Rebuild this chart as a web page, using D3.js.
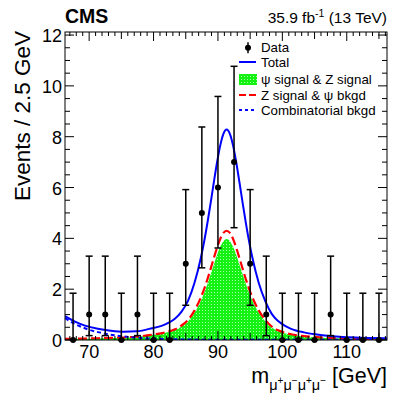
<!DOCTYPE html>
<html><head><meta charset="utf-8">
<script src="https://cdn.jsdelivr.net/npm/d3@7"></script>
<style>
body{margin:0;background:#fff}
svg{display:block}
text{font-family:"Liberation Sans",Arial,Helvetica,sans-serif;fill:#000}
</style>
</head><body>
<svg id="c" width="407" height="396"></svg>
<script>
// ---- data ----
const binCenters = [67.5,70,72.5,75,77.5,80,82.5,85,87.5,90,92.5,95,97.5,100,102.5,105,107.5,110,112.5,115];
const counts     = [0,1,1,0,1,0,0,3,5,6,7,3,1,0,0,0,1,0,0,0];
const errLow     = [0,0.173,0.173,0,0.173,0,0,1.367,2.840,3.620,4.419,1.367,0.173,0,0,0,0.173,0,0,0];
const errHigh    = [1.841,3.300,3.300,1.841,3.300,1.841,1.841,5.918,8.382,9.584,10.77,5.918,3.300,1.841,1.841,1.841,3.300,1.841,1.841,1.841];

const massGrid = [66.25,67.8,69.35,71.35,73.35,75.35,77.35,79.35,81.35,82.35,83.35,84.35,85.35,86.35,87.35,87.85,88.35,88.85,89.35,89.85,90.35,90.85,91.35,91.85,92.35,92.85,93.35,93.85,94.35,94.85,95.35,96.35,97.35,98.35,99.35,100.35,101.35,103.35,105.35,107.35,109.35,111.35,113.35,116.25];
const totalFit = [0.942,0.724,0.566,0.441,0.366,0.328,0.340,0.437,0.566,0.680,0.846,1.120,1.541,2.240,3.238,3.865,4.584,5.369,6.188,6.974,7.650,8.113,8.279,8.113,7.650,6.974,6.188,5.368,4.582,3.863,3.235,2.233,1.530,1.029,0.744,0.563,0.440,0.300,0.218,0.161,0.120,0.095,0.081,0.069];
const psiZSignal = [0.039,0.045,0.051,0.063,0.075,0.090,0.118,0.180,0.252,0.310,0.393,0.527,0.731,1.068,1.548,1.849,2.195,2.572,2.965,3.342,3.667,3.889,3.970,3.889,3.667,3.342,2.965,2.572,2.195,1.849,1.548,1.068,0.731,0.491,0.354,0.267,0.208,0.141,0.102,0.075,0.055,0.043,0.037,0.031];
const zSignalPsiBkgd = [0.043,0.049,0.055,0.068,0.081,0.098,0.128,0.194,0.272,0.336,0.425,0.570,0.791,1.157,1.678,2.005,2.378,2.787,3.213,3.622,3.974,4.215,4.300,4.215,3.974,3.622,3.213,2.787,2.378,2.005,1.678,1.157,0.791,0.531,0.383,0.289,0.225,0.153,0.110,0.081,0.060,0.047,0.040,0.034];
const combBkgd = [0.86,0.63,0.46,0.31,0.21,0.14,0.094,0.063,0.042,0.034,0.028,0.023,0.019,0.015,0.012,0.011,0.011,0.010,0.010,0.010,0.009,0.009,0.009,0.009,0.009,0.009,0.009,0.009,0.009,0.009,0.009,0.008,0.008,0.007,0.007,0.007,0.007,0.006,0.006,0.005,0.005,0.005,0.004,0.004];

const xTickLabels = [70,80,90,100,110];
const yTickLabels = [0,2,4,6,8,10,12];
const legendLabels = ["Data","Total","\u03C8 signal & Z signal","Z signal & \u03C8 bkgd","Combinatorial bkgd"];

// ---- layout ----
const L = 65, R = 387, T = 32, B = 340;
const svg = d3.select("#c");
const x = d3.scaleLinear().domain([66.25,116.25]).range([L,R]);
const y = d3.scaleLinear().domain([0,12.12]).range([B,T]);

const defs = svg.append("defs");
const pat = defs.append("pattern").attr("id","gp").attr("patternUnits","userSpaceOnUse")
  .attr("width",3).attr("height",3);
pat.append("rect").attr("width",3).attr("height",3).attr("fill","#14f214");
pat.append("rect").attr("x",1).attr("y",1).attr("width",1).attr("height",1).attr("fill","#a8ffa8");
defs.append("clipPath").attr("id","clip").append("rect")
  .attr("x",L).attr("y",T).attr("width",R-L).attr("height",B-T);

const plot = svg.append("g").attr("clip-path","url(#clip)");
const pts = i => massGrid.map((m,k)=>[m,i[k]]);

// green fill
plot.append("path")
  .datum(pts(psiZSignal))
  .attr("fill","url(#gp)")
  .attr("d", d3.area().x(d=>x(d[0])).y0(y(0)).y1(d=>y(d[1])).curve(d3.curveMonotoneX));

const line = d3.line().x(d=>x(d[0])).y(d=>y(d[1])).curve(d3.curveMonotoneX);
plot.append("path").datum(pts(zSignalPsiBkgd)).attr("d",line)
  .attr("fill","none").attr("stroke","#ff0000").attr("stroke-width",2.2).attr("stroke-dasharray","9,4");
plot.append("path").datum(pts(combBkgd)).attr("d",line)
  .attr("fill","none").attr("stroke","#0000ff").attr("stroke-width",2).attr("stroke-dasharray","4,3");
plot.append("path").datum(pts(totalFit)).attr("d",line)
  .attr("fill","none").attr("stroke","#0000ff").attr("stroke-width",2);

// data with error bars
const dg = svg.append("g");
binCenters.forEach((c,i)=>{
  const xc = x(c);
  dg.append("line").attr("x1",xc).attr("x2",xc).attr("y1",y(errLow[i])).attr("y2",y(errHigh[i]))
    .attr("stroke","#000").attr("stroke-width",1.5);
  [errLow[i],errHigh[i]].forEach(v=>{
    dg.append("line").attr("x1",xc-3.5).attr("x2",xc+3.5).attr("y1",y(v)).attr("y2",y(v))
      .attr("stroke","#000").attr("stroke-width",1.5);
  });
  dg.append("circle").attr("cx",xc).attr("cy",y(counts[i])).attr("r",3).attr("fill","#000");
});

// frame
svg.append("rect").attr("x",L).attr("y",T).attr("width",R-L).attr("height",B-T)
  .attr("fill","none").attr("stroke","#000").attr("stroke-width",1);

// ticks
const ax = svg.append("g").attr("stroke","#000").attr("stroke-width",1);
d3.range(67,117,1).forEach(v=>{
  const len = v%10===0 ? 9 : (v%5===0 ? 7 : 4);
  const xp = x(v);
  ax.append("line").attr("x1",xp).attr("x2",xp).attr("y1",B).attr("y2",B-len);
  ax.append("line").attr("x1",xp).attr("x2",xp).attr("y1",T).attr("y2",T+len);
});
d3.range(0,12.01,0.5).forEach(v=>{
  const len = Math.abs(v%2)<1e-6 ? 9 : 5;
  const yp = y(v);
  ax.append("line").attr("x1",L).attr("x2",L+len).attr("y1",yp).attr("y2",yp);
  ax.append("line").attr("x1",R).attr("x2",R-len).attr("y1",yp).attr("y2",yp);
});

// tick labels
xTickLabels.forEach(v=>{
  svg.append("text").attr("x",x(v)).attr("y",358).attr("text-anchor","middle")
    .attr("font-size",18).text(v);
});
yTickLabels.forEach(v=>{
  svg.append("text").attr("x",62).attr("y",y(v)+7).attr("text-anchor","end")
    .attr("font-size",18).text(v);
});

// axis titles
svg.append("text").attr("transform","translate(30,31) rotate(-90)").attr("text-anchor","end")
  .attr("font-size",22.5).text("Events / 2.5 GeV");

const xt = svg.append("text").attr("x",387).attr("y",383).attr("text-anchor","end").attr("font-size",21.5);
xt.append("tspan").text("m");
const parts = [["\u03BC","+"],["\u03BC","\u2212"],["\u03BC","+"],["\u03BC","\u2212"]];
parts.forEach((p,i)=>{
  xt.append("tspan").attr("font-size",14.5).attr("dy", i===0 ? 7 : 6).text(p[0]);
  xt.append("tspan").attr("font-size",10).attr("dy",-6).text(p[1]);
});
xt.append("tspan").attr("dy",-1).text(" [GeV]");

// header
svg.append("text").attr("x",65).attr("y",23).attr("font-size",19.5).attr("font-weight","bold").text("CMS");
const hd = svg.append("text").attr("x",387).attr("y",23).attr("text-anchor","end").attr("font-size",15.5);
hd.append("tspan").text("35.9 fb");
hd.append("tspan").attr("font-size",10.5).attr("dy",-6).text("-1");
hd.append("tspan").attr("dy",6).text(" (13 TeV)");

// legend
const lg = svg.append("g");
const ly = [47.7,62,79.5,95,110];
const sx0 = 239, sx1 = 256, tx = 261;
lg.append("line").attr("x1",248).attr("x2",248).attr("y1",ly[0]-5.5).attr("y2",ly[0]+5.5).attr("stroke","#000").attr("stroke-width",1.5);
lg.append("circle").attr("cx",248).attr("cy",ly[0]).attr("r",3).attr("fill","#000");
lg.append("line").attr("x1",sx0).attr("x2",sx1).attr("y1",ly[1]).attr("y2",ly[1]).attr("stroke","#0000ff").attr("stroke-width",2);
lg.append("rect").attr("x",sx0).attr("y",ly[2]-5.5).attr("width",18).attr("height",11).attr("fill","url(#gp)");
lg.append("line").attr("x1",sx0).attr("x2",sx1).attr("y1",ly[3]).attr("y2",ly[3]).attr("stroke","#ff0000").attr("stroke-width",2).attr("stroke-dasharray","7,3");
lg.append("line").attr("x1",sx0).attr("x2",sx1).attr("y1",ly[4]).attr("y2",ly[4]).attr("stroke","#0000ff").attr("stroke-width",2).attr("stroke-dasharray","3,3");
legendLabels.forEach((t,i)=>{
  lg.append("text").attr("x",tx).attr("y",ly[i]+4.7).attr("font-size",13.3).text(t);
});
</script>
</body></html>
